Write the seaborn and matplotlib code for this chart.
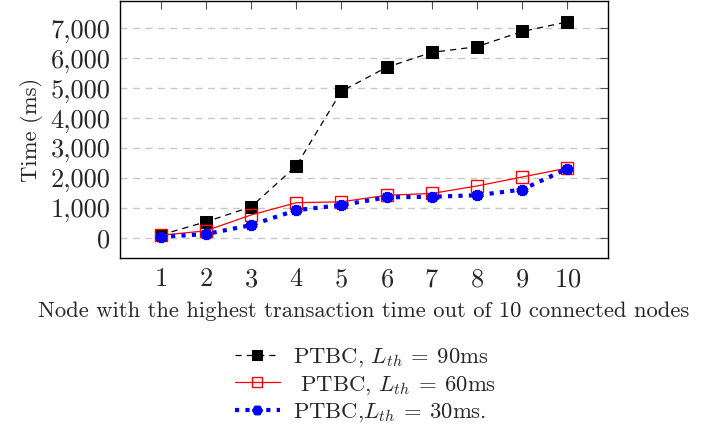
import numpy as np
import pandas as pd
import seaborn as sns
import matplotlib.pyplot as plt
from matplotlib.ticker import StrMethodFormatter

# 데이터
nodes = [1, 2, 3, 4, 5, 6, 7, 8, 9, 10]
time_90 = [90, 530, 1030, 2400, 4900, 5700, 6200, 6390, 6900, 7220]
time_60 = [80, 230, 760, 1170, 1200, 1420, 1480, 1730, 2030, 2330]
time_30 = [30, 120, 420, 920, 1090, 1350, 1370, 1420, 1610, 2310]
y_ticks = [0, 1000, 2000, 3000, 4000, 5000, 6000, 7000]

sns.set_style('white')
plt.rcParams['font.family'] = ['cmr10', 'DejaVu Serif']
plt.rcParams['mathtext.fontset'] = 'cm'
plt.rcParams['axes.formatter.use_mathtext'] = True

fig = plt.figure(figsize=(7.24, 4.3), dpi=100)
ax = fig.add_axes([120 / 724, 1 - 258 / 430, 488 / 724, 257 / 430])

# 세 개의 선 그리기
sns.lineplot(x=nodes, y=time_90, ax=ax, color='black', linestyle=(0, (5, 4)), linewidth=0.9,
             marker='s', markersize=9, markeredgecolor='black', markerfacecolor='black',
             label=r'PTBC, $L_{th}\:=\:90$ms')
sns.lineplot(x=nodes, y=time_60, ax=ax, color='red', linestyle='-', linewidth=0.9,
             marker='s', markersize=9, markerfacecolor='none', markeredgecolor='red',
             markeredgewidth=1.0, label=r' PTBC, $L_{th}\:=\:60$ms')
sns.lineplot(x=nodes, y=time_30, ax=ax, color='blue', linestyle=(0, (1, 1.5)), linewidth=3,
             marker=(6, 2, 0), markersize=8, markeredgewidth=3.5, markeredgecolor='blue',
             label=r'PTBC,$L_{th}\:=\:30$ms.')

ax.set_xlim(0.1, 10.9)
ax.set_ylim(-680, 7920)
ax.set_xticks(nodes)
ax.set_yticks(y_ticks)
ax.yaxis.set_major_formatter(StrMethodFormatter('{x:,.0f}'))
ax.tick_params(axis='both', direction='in', length=6, width=0.8, color='#555555',
               labelsize=19, pad=7, top=True, right=True)
ax.yaxis.grid(True, color='#c8c8c8', linestyle=(0, (5, 4)), linewidth=1.0)
ax.set_axisbelow(True)
for s in ax.spines.values():
    s.set_color('black')
    s.set_linewidth(1.0)

ax.set_xlabel('Node with the highest transaction time out of 10 connected nodes', fontsize=16.3, labelpad=7)
ax.set_ylabel('Time (ms)', fontsize=16.3, labelpad=5)

# 범례는 그래프 아래에
ax.get_legend().remove()
h, l = ax.get_legend_handles_labels()
fig.legend(h, l, loc='upper center', bbox_to_anchor=(0.505, 0.232), frameon=False,
           fontsize=16.3, handlelength=2.0, handletextpad=0.6, labelspacing=0.22,
           borderpad=0.2, markerscale=0.85)

fig.savefig('out.png', dpi=100)
